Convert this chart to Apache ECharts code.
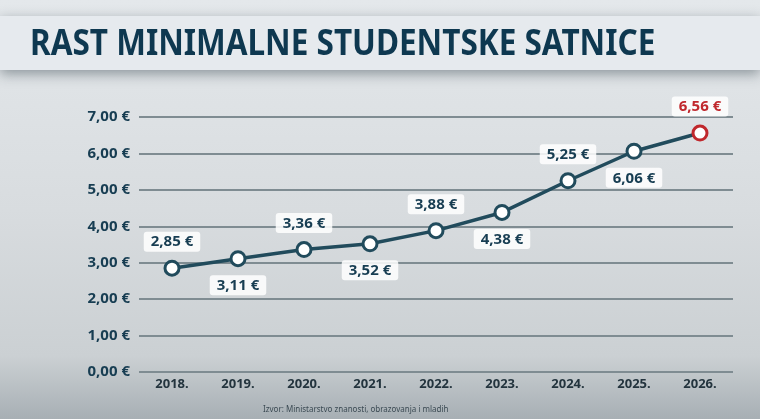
<!DOCTYPE html>
<head>
<meta charset="utf-8">
<title>Rast minimalne studentske satnice</title>
<style>
  html, body { margin: 0; padding: 0; }
  #main { width: 760px; height: 419px; }
</style>
</head>
<body>
<div id="main"></div>
<script src="https://cdn.jsdelivr.net/npm/echarts@6/dist/echarts.min.js"></script>
<script>
var years = ['2018.', '2019.', '2020.', '2021.', '2022.', '2023.', '2024.', '2025.', '2026.'];
var satnica = [2.85, 3.11, 3.36, 3.52, 3.88, 4.38, 5.25, 6.06, 6.56];
var labelPos = ['top', 'bottom', 'top', 'bottom', 'top', 'bottom', 'top', 'bottom', 'top'];
var yTicks = [0, 1, 2, 3, 4, 5, 6, 7];

var navy = '#173d52';
var lineCol = '#214b5c';
var red = '#c0282d';

function euro(v) {
    return v.toFixed(2).replace('.', ',') + ' €';
}

var points = satnica.map(function (v, i) {
    var last = i === satnica.length - 1;
    return {
        value: v,
        itemStyle: { borderColor: last ? red : lineCol },
        label: {
            position: labelPos[i],
            color: last ? red : navy
        }
    };
});

var myChart = echarts.init(document.getElementById('main'));
myChart.setOption({
    backgroundColor: {
        type: 'linear', x: 0, y: 0, x2: 0, y2: 1,
        colorStops: [
            { offset: 0, color: '#e4e8eb' },
            { offset: 0.5, color: '#d8dcdf' },
            { offset: 0.85, color: '#cbd0d3' },
            { offset: 1, color: '#a7afb4' }
        ]
    },
    graphic: [
        {
            type: 'rect', left: 0, top: 16,
            shape: { width: 760, height: 54 },
            style: {
                fill: '#e6eaee',
                shadowBlur: 12, shadowColor: 'rgba(40,55,65,0.45)', shadowOffsetY: 4
            },
            z: 1
        },
        {
            type: 'text', x: 30, y: 45,
            scaleX: 0.9,
            style: {
                text: 'RAST MINIMALNE STUDENTSKE SATNICE',
                fill: '#0e3850',
                font: 'bold 35px "Noto Sans"',
                verticalAlign: 'middle'
            },
            z: 2
        },
        {
            type: 'text', left: 263, top: 406,
            style: {
                text: 'Izvor: Ministarstvo znanosti, obrazovanja i mladih',
                fill: '#3b4a53',
                font: '8px "Noto Sans"'
            },
            z: 2
        }
    ],
    grid: { left: 139, right: 27, top: 117, bottom: 47 },
    xAxis: {
        type: 'category',
        data: years,
        boundaryGap: true,
        axisLine: { show: false },
        axisTick: { show: false },
        axisLabel: {
            color: '#23343e', fontSize: 13, fontWeight: 'bold',
            fontFamily: 'Noto Sans', margin: 6
        }
    },
    yAxis: {
        type: 'value',
        min: 0, max: 7, interval: 1,
        axisLine: { show: false },
        axisTick: { show: false },
        splitLine: { lineStyle: { color: '#7f8c92', width: 2 } },
        axisLabel: {
            color: navy, fontSize: 15, fontWeight: 'bold',
            fontFamily: 'Noto Sans', margin: 9,
            formatter: function (v) { return euro(v); }
        }
    },
    series: [{
        type: 'line',
        data: points,
        symbol: 'circle',
        symbolSize: 14,
        lineStyle: { color: lineCol, width: 3.5 },
        itemStyle: { color: '#ffffff', borderColor: lineCol, borderWidth: 3 },
        label: {
            show: true,
            distance: 8,
            formatter: function (p) { return euro(p.value); },
            fontSize: 15, fontWeight: 'bold', fontFamily: 'Noto Sans',
            backgroundColor: 'rgba(255,255,255,0.85)',
            borderRadius: 3,
            padding: [3, 7, 2, 7]
        },
        z: 3
    }],
    animation: false
});
</script>
</body>
</html>
